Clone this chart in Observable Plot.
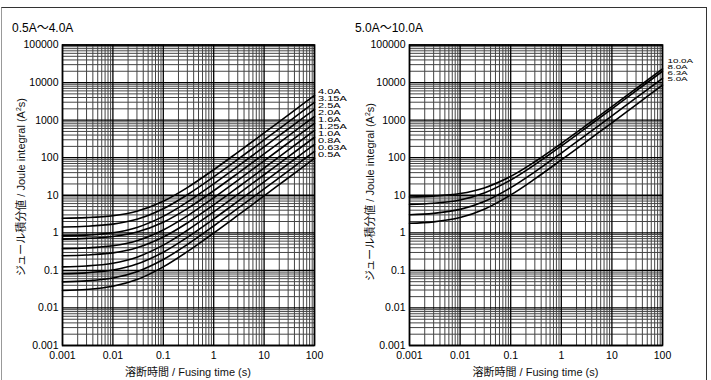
<!DOCTYPE html>
<html>
<head>
<meta charset="utf-8">
<script src="https://cdn.jsdelivr.net/npm/d3@7"></script>
<script src="https://cdn.jsdelivr.net/npm/@observablehq/plot@0.6"></script>
<style>
  html, body { margin: 0; padding: 0; background: #fff; }
  #page { position: relative; width: 711px; height: 380px; overflow: hidden; background: #fff;
          font-family: "Liberation Sans", Arial, "Noto Sans CJK JP", sans-serif; color: #000; }
  .abs { position: absolute; white-space: nowrap; }
  #box { position: absolute; left: 1px; top: 7px; width: 704px; height: 400px;
         border: 1px solid #333; border-left-color: #999; }
  .ttl { font-size: 12px; line-height: 12px; }
  .xt { font-size: 11px; line-height: 12px; transform: translateX(-50%); color: #111; }
  .yt { font-size: 11px; line-height: 12px; transform: translate(-50%, -50%) rotate(-90deg); color: #111; }
  .lbl { font-size: 11px; line-height: 7px; height: 7px; transform: scaleY(0.63); transform-origin: left center; }
  .lblr { font-size: 9.8px; line-height: 6.3px; height: 6.3px; transform: scaleY(0.63); transform-origin: left center; }
</style>
</head>
<body>
<div id="page">
  <div id="box"></div>
</div>
<script>
// ---- data ----
const tSamples = [0.001, 0.003, 0.01, 0.03, 0.1, 0.3, 1, 3, 10, 30, 100];

const xTicks = [0.001, 0.01, 0.1, 1, 10, 100];
const xTickLabels = ["0.001", "0.01", "0.1", "1", "10", "100"];
const yTicks = [0.001, 0.01, 0.1, 1, 10, 100, 1000, 10000, 100000];
const yTickLabels = ["0.001", "0.01", "0.1", "1", "10", "100", "1000", "10000", "100000"];

// left panel (0.5A ~ 4.0A): Joule integral (A^2 s) at tSamples
const leftNames = ["4.0A", "3.15A", "2.5A", "2.0A", "1.6A", "1.25A", "1.0A", "0.8A", "0.63A", "0.5A"];
const left_4_0A  = [2.45, 2.54, 2.85, 3.76, 6.94, 16.0, 47.8, 139, 456, 1364, 4540];
const left_3_15A = [1.43, 1.49, 1.70, 2.29, 4.36, 10.3, 31.0, 90, 297, 889, 2960];
const left_2_5A  = [0.83, 0.87, 1.00, 1.39, 2.74, 6.6, 20.1, 58.7, 194, 580, 1930];
const left_2_0A  = [0.68, 0.71, 0.80, 1.05, 1.92, 4.42, 13.2, 38.2, 126, 376, 1250];
const left_1_6A  = [0.378, 0.395, 0.452, 0.616, 1.19, 2.83, 8.57, 25.0, 82.4, 246, 820];
const left_1_25A = [0.245, 0.256, 0.293, 0.399, 0.77, 1.83, 5.54, 16.1, 53.2, 159, 530];
const left_1_0A  = [0.124, 0.131, 0.155, 0.225, 0.47, 1.17, 3.62, 10.6, 35.1, 105, 350];
const left_0_8A  = [0.081, 0.086, 0.102, 0.147, 0.305, 0.757, 2.34, 6.86, 22.7, 67.9, 226];
const left_0_63A = [0.0495, 0.0524, 0.0627, 0.0921, 0.195, 0.489, 1.52, 4.46, 14.7, 44.1, 147];
const left_0_5A  = [0.029, 0.0309, 0.0376, 0.0568, 0.124, 0.316, 0.988, 2.91, 9.63, 28.8, 96];
const leftSeries = [left_4_0A, left_3_15A, left_2_5A, left_2_0A, left_1_6A, left_1_25A, left_1_0A, left_0_8A, left_0_63A, left_0_5A];

// right panel (5.0A ~ 10.0A)
const rightNames = ["10.0A", "8.0A", "6.3A", "5.0A"];
const right_10_0A = [9.0, 9.5, 11.1, 15.7, 31.8, 78, 239, 700, 2300, 6900, 23000];
const right_8_0A  = [5.7, 6.1, 7.5, 11.5, 25.5, 65.5, 205, 605, 2000, 6000, 20000];
const right_6_3A  = [3.03, 3.29, 4.2, 6.8, 15.9, 42, 133, 393, 1300, 3900, 13000];
const right_5_0A  = [1.79, 1.96, 2.55, 4.25, 10.2, 27.2, 87, 257, 850, 2550, 8500];
const rightSeries = [right_10_0A, right_8_0A, right_6_3A, right_5_0A];

const panelTitles = ["0.5A\u301C4.0A", "5.0A\u301C10.0A"];
const xTitle = "溶断時間 / Fusing time (s)";
const yTitleHTML = "ジュール積分値 / Joule integral (A<sup style='font-size:7px;vertical-align:4px'>2</sup>s)";

// ---- drawing ----
const isDecade = v => Math.abs(Math.log10(v) - Math.round(Math.log10(v))) < 1e-6;
const minorX = d3.scaleLog().domain([1e-3, 1e2]).ticks().filter(v => !isDecade(v));
const minorY = d3.scaleLog().domain([1e-3, 1e5]).ticks().filter(v => !isDecade(v));

function panel(names, series, width, marginLeft, marginRight) {
  const rows = names.flatMap((n, i) => tSamples.map((t, j) => ({name: n, t, v: series[i][j]})));
  return Plot.plot({
    width, height: 380,
    marginLeft, marginRight, marginTop: 44.5, marginBottom: 35,
    style: {fontFamily: "'Liberation Sans', Arial, sans-serif", fontSize: "10.5px", background: "transparent", color: "#000"},
    x: {type: "log", domain: [1e-3, 1e2], ticks: xTicks, tickFormat: d => xTickLabels[xTicks.indexOf(d)],
        tickSize: 0, tickPadding: 6, label: null},
    y: {type: "log", domain: [1e-3, 1e5], ticks: yTicks, tickFormat: d => yTickLabels[yTicks.indexOf(d)],
        tickSize: 0, tickPadding: 4, label: null},
    marks: [
      Plot.ruleX(minorX, {stroke: "#444", strokeWidth: 1}),
      Plot.ruleY(minorY, {stroke: "#444", strokeWidth: 1}),
      Plot.ruleX(xTicks, {stroke: "#000", strokeWidth: 1.3}),
      Plot.ruleY(yTicks, {stroke: "#000", strokeWidth: 1.3}),
      Plot.frame({stroke: "#000", strokeWidth: 1.6}),
      Plot.line(rows, {x: "t", y: "v", z: "name", stroke: "#000", strokeWidth: 1.6, curve: "catmull-rom"})
    ]
  });
}

const page = document.getElementById("page");
function add(el, left, top) {
  el.style.position = "absolute"; el.style.left = left + "px"; el.style.top = top + "px";
  page.appendChild(el); return el;
}
function div(cls, html, left, top) {
  const d = document.createElement("div");
  d.className = "abs " + cls; d.innerHTML = html;
  return add(d, left, top);
}

add(panel(leftNames, leftSeries, 355, 62, 41), 0, 0);
add(panel(rightNames, rightSeries, 356, 54, 49), 355, 0);

// panel titles
div("ttl", panelTitles[0], 12, 22);
div("ttl", panelTitles[1], 355, 22);

// axis titles
div("xt", xTitle, 188, 366);
div("xt", xTitle, 535.5, 366);
div("yt", yTitleHTML, 20, 187);
div("yt", yTitleHTML, 369, 192);

// curve labels
leftNames.forEach((n, i) => div("lbl", n, 318, 91.7 - 3.5 + i * 7.03));
rightNames.forEach((n, i) => div("lblr", n, 667.5, 60.7 - 3.15 + i * 6.3));
</script>
</body>
</html>
